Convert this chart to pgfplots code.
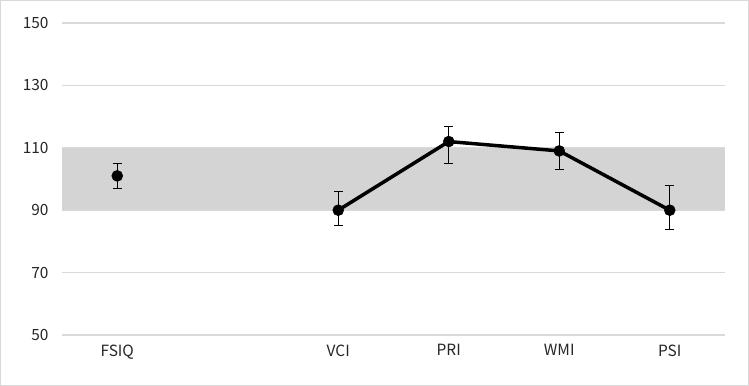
\documentclass[border=0pt]{standalone}
\usepackage{fontspec}
\setmainfont{Noto Sans CJK JP}
\usepackage{pgfplots}
\pgfplotsset{compat=1.18}
\definecolor{gridc}{HTML}{D9D9D9}
\definecolor{bandc}{HTML}{D4D4D4}
\begin{document}
\begin{tikzpicture}
\fill[white] (0,0) rectangle (749bp,386bp);
\draw[gridc, line width=1.2bp] (0.6bp,0.6bp) rectangle (748.4bp,385.4bp);
\path[use as bounding box] (0,0) rectangle (749bp,386bp);
\begin{axis}[
  at={(62bp,51bp)}, anchor=south west,
  scale only axis, width=663bp, height=312bp,
  xmin=-0.5, xmax=5.5, ymin=50, ymax=150,
  ytick={50,70,90,110,130,150},
  xtick={0,2,3,4,5},
  xticklabels={FSIQ,VCI,PRI,WMI,PSI},
  axis line style={draw=none},
  major tick length=0pt,
  ymajorgrids, grid style={gridc, line width=1.3bp},
  /pgf/number format/assume math mode=true,
  tick label style={font=\fontsize{15.5}{18}\selectfont, text=black!85},
  yticklabel style={xshift=-10bp},
  xticklabel style={yshift=-6bp},
  clip=false,
]
\addplot[fill=bandc, draw=none] coordinates {(-0.5,90) (5.5,90) (5.5,110) (-0.5,110)} -- cycle;
\addplot[only marks, mark=*, mark size=5.5bp, mark options={fill=black, line width=0.5bp},
  error bars/.cd, y dir=both, y explicit, error mark options={rotate=90, mark size=4.5bp, line width=0.8bp}, error bar style={line width=0.8bp}]
  coordinates {(0,101) +- (0,4)};
\addplot[black, line width=3.5bp, mark=*, mark size=5.5bp, mark options={fill=black, line width=0.5bp},
  error bars/.cd, y dir=both, y explicit, error mark options={rotate=90, mark size=4.5bp, line width=0.8bp}, error bar style={line width=0.8bp}]
  coordinates {
   (2,90) += (0,6) -= (0,5)
   (3,112) += (0,5) -= (0,7)
   (4,109) += (0,6) -= (0,6)
   (5,90) += (0,8) -= (0,6)
  };
\end{axis}
\end{tikzpicture}
\end{document}
